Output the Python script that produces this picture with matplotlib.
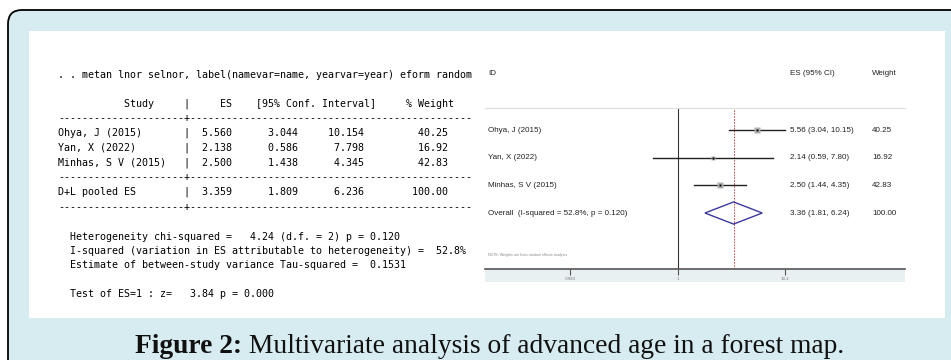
import matplotlib
matplotlib.use("Agg")
import matplotlib.pyplot as plt
from matplotlib.patches import FancyBboxPatch, Rectangle

# studies in the meta-analysis
names = ["Ohya, J (2015)", "Yan, X (2022)", "Minhas, S V (2015)"]
es = [5.560, 2.138, 2.500]
lo = [3.044, 0.586, 1.438]
hi = [10.154, 7.798, 4.345]
weight = [40.25, 16.92, 42.83]

# pooled random-effects estimate
pooled = [3.359, 1.809, 6.236]
pooled_w = 100.00
chi2, df, p_het = 4.24, 2, 0.120
i2 = 52.8
tau2 = 0.1531
z, p_z = 3.84, 0.000

ticks = [0.0983, 1, 10.2]
tick_labels = [".0983", "1", "10.2"]

W, H = 951, 360
fig = plt.figure(figsize=(W / 100, H / 100), dpi=100)
fig.patch.set_facecolor("white")

# background layer in pixel units
bg = fig.add_axes([0, 0, 1, 1])
bg.set_xlim(0, W)
bg.set_ylim(H, 0)
bg.axis("off")

frame = FancyBboxPatch((8, 10), W + 40, H + 40, boxstyle="round,pad=0,rounding_size=14",
                       facecolor="#d7ecf1", edgecolor="black", linewidth=1.3)
bg.add_patch(frame)
bg.add_patch(Rectangle((29, 31), 945 - 29, 318 - 31, facecolor="white", edgecolor="none"))
# grey band under the forest plot axis
bg.add_patch(Rectangle((485, 269), 420, 13, facecolor="#e8f0f2", edgecolor="none"))

# ---- Stata text output (left) ----
mono = dict(family="DejaVu Sans Mono", fontsize=7.2, color="#000000", va="center", ha="left")
x0 = 58
bg.text(x0, 75, ". . metan lnor selnor, label(namevar=name, yearvar=year) eform random", **mono)
header = " " * 11 + "Study" + " " * 5 + "|" + " " * 5 + "ES" + " " * 4 + "[95% Conf. Interval]" + " " * 5 + "% Weight"
bg.text(x0, 104, header, **mono)
dash = "-" * 21 + "+" + "-" * 47
bg.text(x0, 118, dash, **mono)
row_y = [133, 148, 163]
for n, e, l, h, w, y in zip(names, es, lo, hi, weight, row_y):
    bg.text(x0, y, f"{n:<21}|  {e:.3f}{l:>11.3f}{h:>11.3f}{w:>14.2f}", **mono)
bg.text(x0, 177, dash, **mono)
bg.text(x0, 192, f"{'D+L pooled ES':<21}|  {pooled[0]:.3f}{pooled[1]:>11.3f}{pooled[2]:>11.3f}{pooled_w:>14.2f}", **mono)
bg.text(x0, 207, dash, **mono)
bg.text(x0, 237, f"  Heterogeneity chi-squared = {chi2:6.2f} (d.f. = {df}) p = {p_het:.3f}", **mono)
bg.text(x0, 251, f"  I-squared (variation in ES attributable to heterogeneity) = {i2:5.1f}%", **mono)
bg.text(x0, 265, f"  Estimate of between-study variance Tau-squared =  {tau2:.4f}", **mono)
bg.text(x0, 294, f"  Test of ES=1 : z= {z:6.2f} p = {p_z:.3f}", **mono)

# ---- forest plot (right) ----
ppd = 106.6          # pixels per decade
x_one = 677.5        # pixel of ES = 1
ax_l, ax_r, ax_t, ax_b = 485, 905, 108, 269
ax = fig.add_axes([ax_l / W, 1 - ax_b / H, (ax_r - ax_l) / W, (ax_b - ax_t) / H])
ax.set_xscale("log")
ax.set_xlim(10 ** ((ax_l - x_one) / ppd), 10 ** ((ax_r - x_one) / ppd))
row_px = 27.67
ax.set_ylim((ax_b - 130) / row_px, (ax_t - 130) / row_px)
ax.patch.set_alpha(0)
for s in ["left", "right"]:
    ax.spines[s].set_visible(False)
ax.spines["top"].set_color("#dddddd")
ax.spines["top"].set_linewidth(0.8)
ax.spines["bottom"].set_color("#555555")
ax.spines["bottom"].set_linewidth(1.2)
ax.set_yticks([])
ax.minorticks_off()
ax.set_xticks(ticks)
ax.set_xticklabels(tick_labels)
ax.tick_params(axis="x", which="major", length=4, width=0.8, color="#555555",
               labelsize=2.8, labelcolor="#777777", pad=1.5)
ax.tick_params(axis="x", which="minor", length=0)

ax.axvline(1, color="#333333", lw=0.8, zorder=1)
ax.axvline(pooled[0], color="#cc3333", lw=0.6, ls=(0, (2, 1.5)), zorder=1)

rows = list(range(len(names)))
for r, e, l, h, w in zip(rows, es, lo, hi, weight):
    ax.plot([l, h], [r, r], color="#222222", lw=1.0, zorder=2)
    ax.plot([e], [r], marker="s", ms=w ** 0.5 * 0.58, color="#b0b0b0", mec="none", zorder=3)
    ax.plot([e], [r], marker="s", ms=1.5, color="black", mec="none", zorder=4)

pr = len(names)
hh = 0.4
ax.fill([pooled[1], pooled[0], pooled[2], pooled[0], pooled[1]],
        [pr, pr - hh, pr, pr + hh, pr], facecolor="none", edgecolor="#3a3a9c", lw=1.0, zorder=3)

sans = dict(family="Liberation Sans", fontsize=5.8, color="#222222", va="center", clip_on=False)
bt = ax.get_yaxis_transform()  # x in axes fraction, y in data
x_id, x_es, x_w = 3 / 420, (790 - ax_l) / 420, (872 - ax_l) / 420
ax.text(x_id, (73 - 130) / row_px, "ID", transform=bt, **sans)
ax.text(x_es, (73 - 130) / row_px, "ES (95% CI)", transform=bt, **sans)
ax.text(x_w, (73 - 130) / row_px, "Weight", transform=bt, **sans)
for r, n, e, l, h, w in zip(rows, names, es, lo, hi, weight):
    ax.text(x_id, r, n, transform=bt, **sans)
    ax.text(x_es, r, f"{e + 1e-9:.2f} ({l + 1e-9:.2f}, {h + 1e-9:.2f})", transform=bt, **sans)
    ax.text(x_w, r, f"{w:.2f}", transform=bt, **sans)
ax.text(x_id, pr, f"Overall  (I-squared = {i2:.1f}%, p = {p_het:.3f})", transform=bt, **sans)
ax.text(x_es, pr, f"{pooled[0] + 1e-9:.2f} ({pooled[1] + 1e-9:.2f}, {pooled[2] + 1e-9:.2f})", transform=bt, **sans)
ax.text(x_w, pr, f"{pooled_w:.2f}", transform=bt, **sans)
ax.text(x_id, (255 - 130) / row_px, "NOTE: Weights are from random effects analysis",
        transform=bt, family="Liberation Sans", fontsize=2.6, color="#888888", va="center")

# caption, fitted to span about 134..846 px
cap_font = "Liberation Serif"
cap1 = bg.text(0, 353, "Figure 2:", family=cap_font, fontsize=14, fontweight="bold",
               color="#111111", va="baseline")
cap2 = bg.text(0, 353, " Multivariate analysis of advanced age in a forest map.", family=cap_font,
               fontsize=14, color="#111111", va="baseline")
fig.canvas.draw()
rnd = fig.canvas.get_renderer()
total = cap1.get_window_extent(rnd).width + cap2.get_window_extent(rnd).width
fs = 14 * 712 / total
cap1.set_fontsize(fs)
cap2.set_fontsize(fs)
fig.canvas.draw()
w1 = cap1.get_window_extent(rnd).width
w2 = cap2.get_window_extent(rnd).width
start = 490 - (w1 + w2) / 2
cap1.set_x(start)
cap2.set_x(start + w1)

fig.savefig("out.png", dpi=100)
